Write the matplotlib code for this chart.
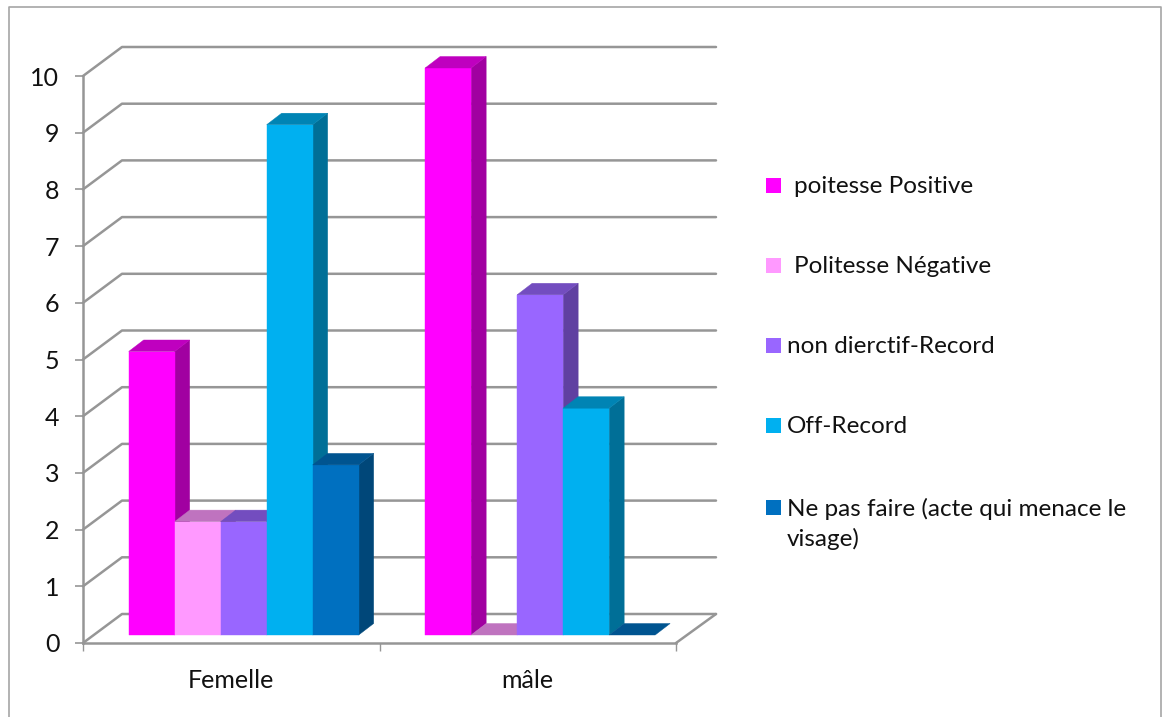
import matplotlib
matplotlib.use('Agg')
import matplotlib.pyplot as plt
from matplotlib.colors import to_rgb
from matplotlib.lines import Line2D
from matplotlib.patches import Polygon, Rectangle

plt.rcParams['font.family'] = ['Lato', 'DejaVu Sans']

# Data
categories = ['Femelle', 'mâle']
series_names = ['poitesse Positive', 'Politesse Négative', 'non dierctif-Record',
                'Off-Record', 'Ne pas faire (acte qui menace le\nvisage)']
poitesse_positive = [5, 10]
politesse_negative = [2, 0]
non_directif = [2, 6]
off_record = [9, 4]
ne_pas_faire = [3, 0]
all_series = [poitesse_positive, politesse_negative, non_directif, off_record, ne_pas_faire]
y_ticks = list(range(11))

# Styles
colors = ['#FF00FF', '#FF99FF', '#9966FF', '#00B0F0', '#0070C0']
legend_y = [185, 265, 345, 425, 507]
legend_x = [794, 794, 787, 787, 787]
grid_color = '#969696'
font_size = 17.5

W, H = 1166, 717
fig = plt.figure(figsize=(W / 100, H / 100), dpi=100)

# Axes box: x from 83 to 676 px, y from 643 up to 76 px
ax = fig.add_axes([83 / W, 1 - 643 / H, (676 - 83) / W, (643 - 76) / H])
ax.set_xlim(0, len(categories))
ax.set_ylim(0, 10)
px_x = len(categories) / (676 - 83)
px_y = 10 / (643 - 76)

# Oblique offsets of the back wall and of the bar depth
wall_dx, wall_dy = 39 * px_x, 29 * px_y
depth_dx, depth_dy = 15 * px_x, 11.5 * px_y
bar_w = 46 * px_x
cluster_start = 0.154
base = 8 * px_y
wall_end = (716 - 83) * px_x


def shade(color, f):
    return tuple(c * f for c in to_rgb(color))


def grid(xs, ys, zorder=1):
    ax.plot(xs, ys, color=grid_color, lw=1.8, clip_on=False, zorder=zorder,
            solid_capstyle='round', solid_joinstyle='round')


# Wall and floor lines
for v in y_ticks:
    grid([0, wall_dx, wall_end], [v, v + wall_dy, v + wall_dy])
grid([len(categories), wall_end], [0, wall_dy])


def poly(pts, color, zorder):
    ax.add_patch(Polygon(pts, closed=True, facecolor=color, edgecolor=color, lw=0.3,
                         clip_on=False, zorder=zorder))


# 3D bars, drawn left to right so each bar covers the side of the previous one
for c in range(len(categories)):
    for s, values in enumerate(all_series):
        x0 = c + cluster_start + s * bar_w
        x1 = x0 + bar_w
        top = base + values[c]
        z = 2 + c * 10 + s
        if values[c] > 0:
            poly([(x1, base), (x1 + depth_dx, base + depth_dy),
                  (x1 + depth_dx, top + depth_dy), (x1, top)], shade(colors[s], 0.63), z)
            poly([(x0, base), (x1, base), (x1, top), (x0, top)], colors[s], z)
        poly([(x0, top), (x1, top), (x1 + depth_dx, top + depth_dy),
              (x0 + depth_dx, top + depth_dy)], shade(colors[s], 0.75), z)

# Axes lines, ticks and labels
for side in ['top', 'right']:
    ax.spines[side].set_visible(False)
for side in ['left', 'bottom']:
    ax.spines[side].set_color(grid_color)
    ax.spines[side].set_linewidth(1.8)
ax.patch.set_alpha(0)
ax.set_yticks(y_ticks)
ax.set_xticks(range(len(categories) + 1))
ax.set_xticklabels([])
ax.set_xticks([i + 0.5 for i in range(len(categories))], minor=True)
ax.set_xticklabels(categories, minor=True, fontsize=18)
ax.tick_params(axis='x', which='minor', length=0, pad=19, labelcolor='#111111')
ax.tick_params(axis='x', which='major', length=6, width=1, color=grid_color)
ax.tick_params(axis='y', length=6, width=1.2, color=grid_color, labelsize=18,
               pad=11, labelcolor='#111111')

# Legend
for i, name in enumerate(series_names):
    fig.add_artist(Rectangle((766 / W, 1 - (legend_y[i] + 7.5) / H), 15 / W, 15 / H,
                             facecolor=colors[i], edgecolor='none'))
    fig.text(legend_x[i] / W, 1 - (legend_y[i] - 9) / H, name, fontsize=font_size,
             color='#111111', va='top', ha='left', linespacing=1.42)

# Outer frame, open at the bottom
frame = dict(color='#A6A6A6', lw=1.2)
fig.add_artist(Line2D([9 / W, 9 / W, 1160.5 / W, 1160.5 / W],
                      [0, 1 - 6.5 / H, 1 - 6.5 / H, 0], **frame))

fig.savefig('out.png', dpi=100)
